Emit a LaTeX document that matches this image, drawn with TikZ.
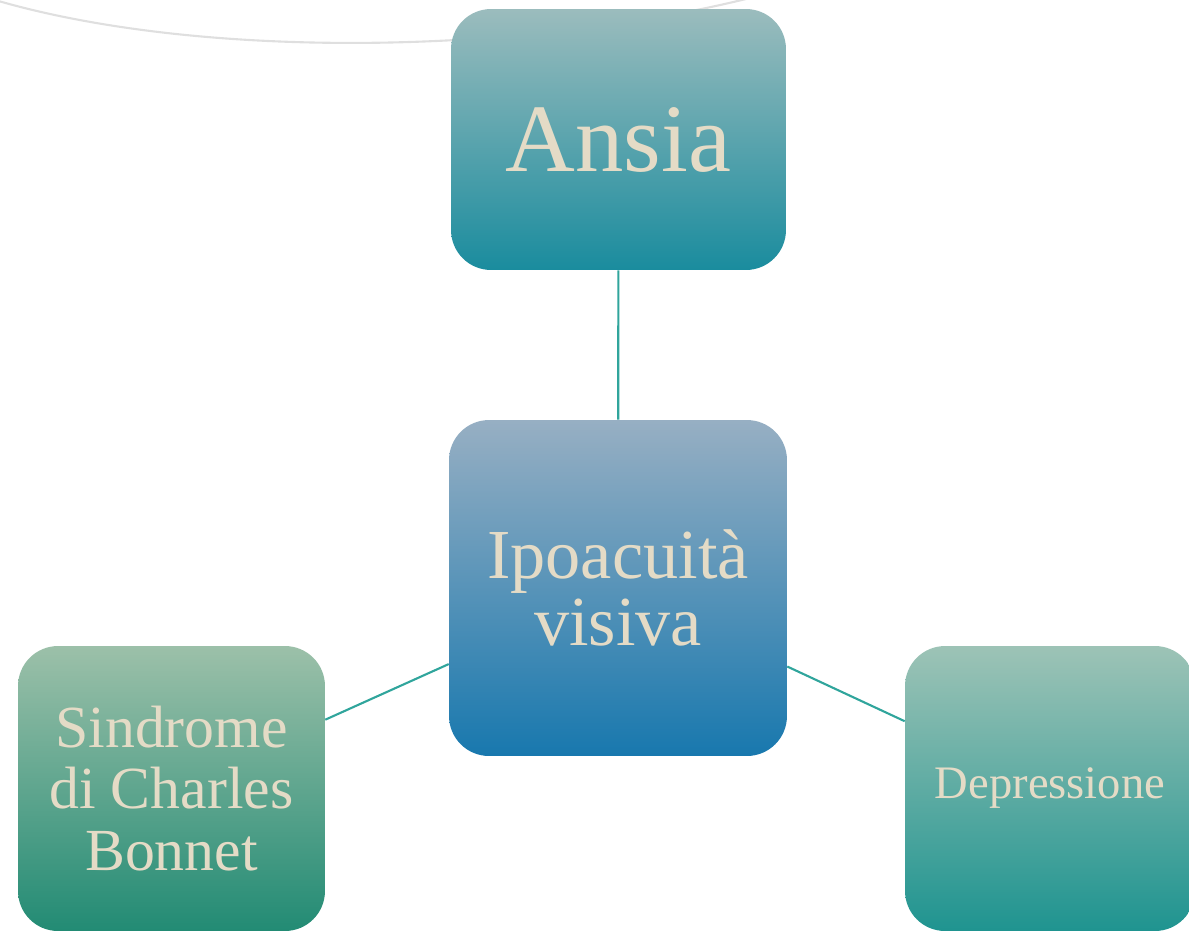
\documentclass[tikz,border=0pt]{standalone}
\usepackage{fontspec}
\setmainfont{Liberation Serif}
\usepackage{xcolor}
\usepackage{tikz}
\usetikzlibrary{positioning}

\definecolor{beige}{HTML}{E4DBC6}
\definecolor{linkc}{HTML}{30A59C}
\definecolor{ansiatop}{HTML}{9BBCBD}
\definecolor{ansiabot}{HTML}{1A8C9E}
\definecolor{ipotop}{HTML}{97AFC3}
\definecolor{ipobot}{HTML}{1878AE}
\definecolor{cbstop}{HTML}{9CC0A9}
\definecolor{cbsbot}{HTML}{228B74}
\definecolor{deptop}{HTML}{9DC3B6}
\definecolor{depbot}{HTML}{1F9490}

\begin{document}
\begin{tikzpicture}[
  x=0.02cm, y=-0.02cm,
  box/.style={rectangle, rounded corners=0.8cm, inner sep=0pt, align=center, text=beige},
  link/.style={draw=linkc, line width=1.2pt}
]
  \useasboundingbox (0,0) rectangle (1189,931);

  % arco grigio in alto
  \draw[gray!25, line width=1.2pt] (-5,0) .. controls (200,60) and (520,55) .. (750,-2);

  % riquadri
  \node[box, top color=ansiatop, bottom color=ansiabot, minimum width=6.7cm, minimum height=5.22cm,
        font=\fontsize{55}{55}\selectfont] (ansia) at (618.5,139.5) {Ansia};
  \node[box, top color=ipotop, bottom color=ipobot, minimum width=6.76cm, minimum height=6.72cm,
        font=\fontsize{40}{38}\selectfont] (ipo) at (618,588) {Ipoacuità\\visiva};
  \node[box, top color=cbstop, bottom color=cbsbot, minimum width=6.14cm, minimum height=5.7cm,
        font=\fontsize{34}{35}\selectfont] (cbs) at (171.5,788.5) {Sindrome\\di Charles\\Bonnet};
  \node[box, top color=deptop, bottom color=depbot, minimum width=5.8cm, minimum height=5.7cm,
        font=\fontsize{26.5}{30}\selectfont] (dep) at (1050,788.5) {Depressione};

  % collegamenti
  \draw[link] (ipo) -- (ansia);
  \draw[link] (ipo) -- (cbs);
  \draw[link] (ipo) -- (dep);
\end{tikzpicture}
\end{document}
